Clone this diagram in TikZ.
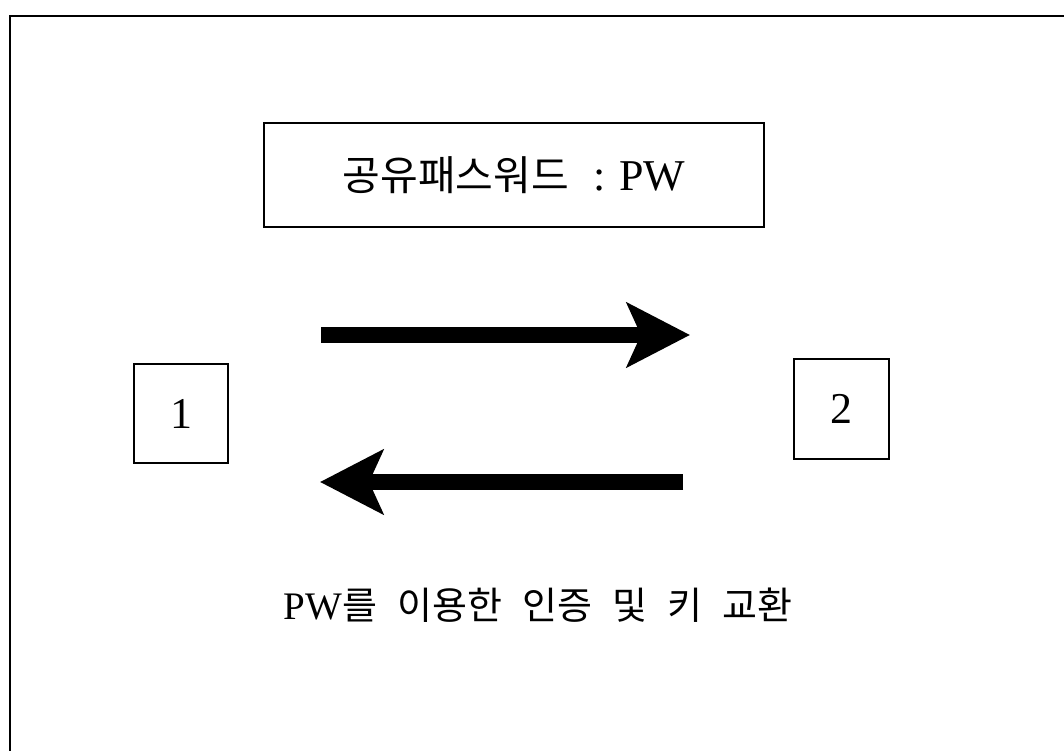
\documentclass[tikz,border=0pt]{standalone}
\usepackage{fontspec}
\setmainfont{Liberation Serif}
\newfontfamily\kr{Noto Sans CJK KR}
\usetikzlibrary{arrows.meta}
\begin{document}
\begin{tikzpicture}[x=1pt,y=-1pt,
  frame/.style={line width=2.5pt},
  boxnode/.style={draw,line width=2pt,inner sep=0pt,anchor=north west},
  bigarrow/.style={line width=16pt,-{Stealth[length=63pt,width=64pt,inset=14pt]}},
]
\useasboundingbox[fill=white] (0,0) rectangle (1064,751);
\draw[frame] (10,751) -- (10,16) -- (1064,16);
\node[boxnode,minimum width=500pt,minimum height=104pt] (pw) at (263,122) {};
\node (pwt) at ([xshift=0pt]pw.center) {{\kr\fontsize{41}{44}\selectfont 공유패스워드}\hspace{24pt}\fontsize{44}{48}\selectfont :\hspace{14pt}PW};
\node[boxnode,minimum width=94pt,minimum height=99pt] (n1) at (133,363) {};
\node at (n1.center) {\fontsize{44}{48}\selectfont 1};
\node[boxnode,minimum width=95pt,minimum height=100pt] (n2) at (793,358) {};
\node at (n2.center) {\fontsize{44}{48}\selectfont 2};
\coordinate (a1s) at (321,335);
\coordinate (a1e) at (690,335);
\coordinate (a2s) at (683,482);
\coordinate (a2e) at (320,482);
\draw[bigarrow] (a1s) -- (a1e);
\draw[bigarrow] (a2s) -- (a2e);
\node (cap) at (538,605) {\fontsize{39}{40}\selectfont PW{\kr\fontsize{38}{40}\selectfont 를\hspace{20pt}이용한\hspace{20pt}인증\hspace{20pt}및\hspace{20pt}키\hspace{20pt}교환}};
\end{tikzpicture}
\end{document}
